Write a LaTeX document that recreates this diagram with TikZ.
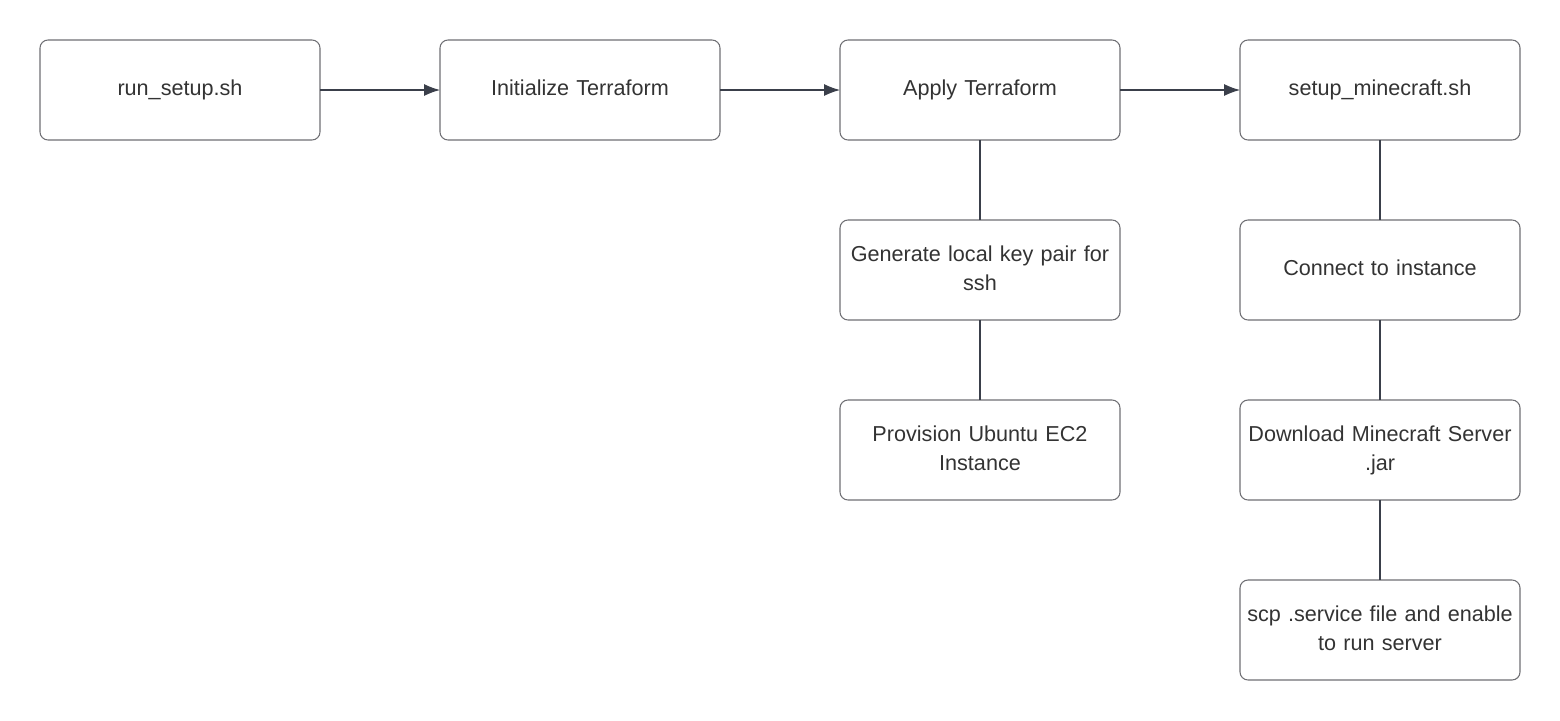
\documentclass[tikz,border=0pt]{standalone}
\usepackage{fontspec}
\setmainfont{Liberation Sans}
\usetikzlibrary{positioning,arrows.meta}
\definecolor{boxline}{HTML}{6E6E73}
\definecolor{wire}{HTML}{3A3F4A}
\definecolor{words}{HTML}{333333}
\tikzset{
  stepbox/.style={draw=boxline,line width=0.6pt,rounded corners=0.16cm,outer sep=0pt,
    inner xsep=0.05cm,minimum width=5.6cm,minimum height=2cm,text width=5.5cm,
    align=center,text=words,font=\fontsize{12.3}{16.5}\selectfont,
    execute at begin node=\strut,execute at end node=\strut},
  flow/.style={wire,line width=0.6pt,-{Latex[length=0.32cm,width=0.24cm]}},
  link/.style={wire,line width=0.6pt}
}
\begin{document}
\begin{tikzpicture}
  \useasboundingbox (0,0) rectangle (31.2,-14.4);
  % top row
  \node [stepbox] (run) at (3.6,-1.8) {run\_setup.sh};
  \node [stepbox,right=2.4cm of run] (init) {Initialize Terraform};
  \node [stepbox,right=2.4cm of init] (apply) {Apply Terraform};
  \node [stepbox,right=2.4cm of apply] (mc) {setup\_minecraft.sh};
  % terraform column
  \node [stepbox,below=1.6cm of apply] (keys) {Generate local key pair for\\ssh};
  \node [stepbox,below=1.6cm of keys] (ec2) {Provision Ubuntu EC2\\Instance};
  % minecraft column
  \node [stepbox,below=1.6cm of mc] (conn) {Connect to instance};
  \node [stepbox,below=1.6cm of conn] (jar) {Download Minecraft Server\\.jar};
  \node [stepbox,below=1.6cm of jar] (svc) {scp .service file and enable\\to run server};
  \draw [flow] (run) -- (init);
  \draw [flow] (init) -- (apply);
  \draw [flow] (apply) -- (mc);
  \draw [link] (apply) -- (keys);
  \draw [link] (keys) -- (ec2);
  \draw [link] (mc) -- (conn);
  \draw [link] (conn) -- (jar);
  \draw [link] (jar) -- (svc);
\end{tikzpicture}
\end{document}
